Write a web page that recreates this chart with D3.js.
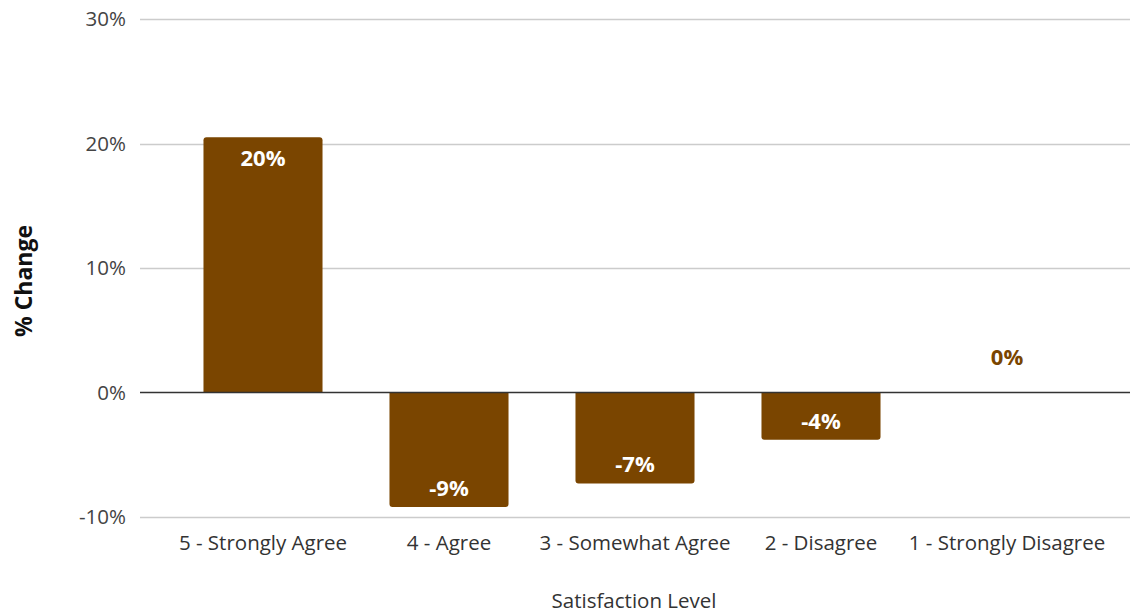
<!DOCTYPE html>
<html><head><meta charset="utf-8">
<script src="https://cdn.jsdelivr.net/npm/d3@7"></script>
<style>body{margin:0;background:#fff;} text{font-family:"Open Sans",sans-serif;}</style>
</head><body>
<svg id="c" width="1139" height="613"></svg>
<script>
const categories = ["5 - Strongly Agree","4 - Agree","3 - Somewhat Agree","2 - Disagree","1 - Strongly Disagree"];
const values = [20.5, -9.2, -7.3, -3.8, 0];
const valueLabels = ["20%","-9%","-7%","-4%","0%"];
const yTicks = [-10, 0, 10, 20, 30];

const svg = d3.select("#c");
const gridLeft = 140, gridRight = 1130;
const x = d3.scaleBand().domain(categories).range([170, 1100]).paddingInner(0.36).paddingOuter(0.18);
const y = d3.scaleLinear().domain([-10, 30]).range([517, 19]);
const color = "#7a4500";

// gridlines
svg.append("g").selectAll("line").data(yTicks.filter(d => d !== 0)).join("line")
  .attr("x1", gridLeft).attr("x2", gridRight)
  .attr("y1", d => Math.round(y(d)) + 0.5).attr("y2", d => Math.round(y(d)) + 0.5)
  .attr("stroke", "#cccccc").attr("stroke-width", 1.3);

// y axis labels
const yAxis = d3.axisLeft(y).tickValues(yTicks).tickFormat(d => d + "%").tickSize(0).tickPadding(0);
const ya = svg.append("g").attr("transform", `translate(${gridLeft - 14},0)`).call(yAxis);
ya.select(".domain").remove();
ya.selectAll("text").attr("font-size", 20.5).attr("fill", "#444").attr("font-family", "Open Sans");

// bars with rounded outer end
function barPath(d, i) {
  const x0 = x(categories[i]), w = x.bandwidth();
  const y0 = y(0), y1 = y(d);
  const r = Math.min(3, Math.abs(y1 - y0) / 2);
  if (d === 0) return "";
  if (d > 0) {
    return `M${x0},${y0}V${y1 + r}Q${x0},${y1} ${x0 + r},${y1}H${x0 + w - r}Q${x0 + w},${y1} ${x0 + w},${y1 + r}V${y0}Z`;
  } else {
    return `M${x0},${y0}V${y1 - r}Q${x0},${y1} ${x0 + r},${y1}H${x0 + w - r}Q${x0 + w},${y1} ${x0 + w},${y1 - r}V${y0}Z`;
  }
}
svg.append("g").selectAll("path").data(values).join("path")
  .attr("d", barPath).attr("fill", color);

// zero line
svg.append("line").attr("x1", gridLeft).attr("x2", gridRight)
  .attr("y1", y(0)).attr("y2", y(0)).attr("stroke", "#333").attr("stroke-width", 1.5);

// value labels
svg.append("g").selectAll("text").data(values).join("text")
  .attr("x", (d, i) => x(categories[i]) + x.bandwidth() / 2)
  .attr("y", d => d > 0 ? y(d) + 20 : d < 0 ? y(d) - 20 : y(0) - 37)
  .attr("text-anchor", "middle").attr("dominant-baseline", "central")
  .attr("font-size", 22).attr("font-weight", 700)
  .attr("fill", d => d === 0 ? color : "#fff")
  .text((d, i) => valueLabels[i]);

// x axis labels
const xAxis = d3.axisBottom(x).tickSize(0).tickPadding(0);
const xa = svg.append("g").attr("transform", `translate(0,542)`).call(xAxis);
xa.select(".domain").remove();
xa.selectAll("text").attr("font-size", 20.5).attr("fill", "#333").attr("dy", null)
  .attr("dominant-baseline", "central").attr("font-family", "Open Sans");

// axis titles
svg.append("text").attr("x", 634).attr("y", 600)
  .attr("text-anchor", "middle").attr("dominant-baseline", "central")
  .attr("font-size", 20.5).attr("fill", "#333").text("Satisfaction Level");
svg.append("text").attr("transform", "translate(23,281) rotate(-90)")
  .attr("text-anchor", "middle").attr("dominant-baseline", "central")
  .attr("font-size", 23).attr("font-weight", 700).attr("fill", "#111").text("% Change");
</script>
</body></html>
